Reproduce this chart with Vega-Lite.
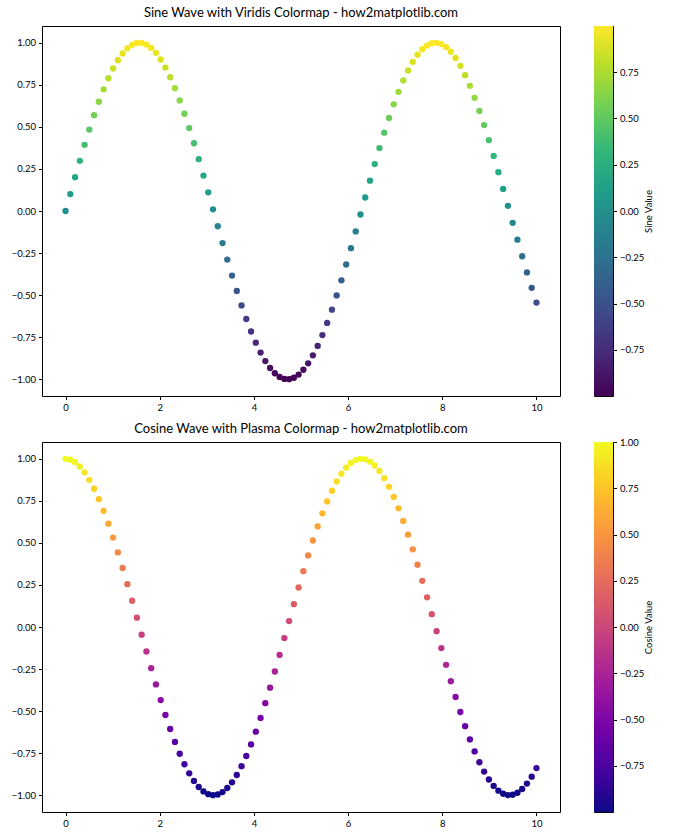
{
  "$schema": "https://vega.github.io/schema/vega-lite/v6.json",
  "padding": {"left": 10, "top": 6, "right": 5, "bottom": 5},
  "background": "white",
  "resolve": {"scale": {"color": "independent"}},
  "datasets": {
    "waves": [
      {"x": 0.0, "sin": 0.0, "cos": 1.0},
      {"x": 0.10101, "sin": 0.10084, "cos": 0.9949},
      {"x": 0.20202, "sin": 0.20065, "cos": 0.97966},
      {"x": 0.30303, "sin": 0.29842, "cos": 0.95444},
      {"x": 0.40404, "sin": 0.39314, "cos": 0.91948},
      {"x": 0.50505, "sin": 0.48386, "cos": 0.87515},
      {"x": 0.60606, "sin": 0.56964, "cos": 0.8219},
      {"x": 0.70707, "sin": 0.64962, "cos": 0.76027},
      {"x": 0.80808, "sin": 0.72297, "cos": 0.69088},
      {"x": 0.90909, "sin": 0.78895, "cos": 0.61446},
      {"x": 1.0101, "sin": 0.84689, "cos": 0.53177},
      {"x": 1.11111, "sin": 0.89619, "cos": 0.44366},
      {"x": 1.21212, "sin": 0.93636, "cos": 0.35103},
      {"x": 1.31313, "sin": 0.96699, "cos": 0.25482},
      {"x": 1.41414, "sin": 0.98776, "cos": 0.15601},
      {"x": 1.51515, "sin": 0.99845, "cos": 0.05562},
      {"x": 1.61616, "sin": 0.99897, "cos": -0.04535},
      {"x": 1.71717, "sin": 0.98931, "cos": -0.14585},
      {"x": 1.81818, "sin": 0.96956, "cos": -0.24487},
      {"x": 1.91919, "sin": 0.93992, "cos": -0.34139},
      {"x": 2.0202, "sin": 0.90071, "cos": -0.43443},
      {"x": 2.12121, "sin": 0.85231, "cos": -0.52304},
      {"x": 2.22222, "sin": 0.79523, "cos": -0.60632},
      {"x": 2.32323, "sin": 0.73004, "cos": -0.68342},
      {"x": 2.42424, "sin": 0.6574, "cos": -0.75356},
      {"x": 2.52525, "sin": 0.57806, "cos": -0.81601},
      {"x": 2.62626, "sin": 0.49282, "cos": -0.87014},
      {"x": 2.72727, "sin": 0.40257, "cos": -0.9154},
      {"x": 2.82828, "sin": 0.30821, "cos": -0.95133},
      {"x": 2.92929, "sin": 0.21071, "cos": -0.97756},
      {"x": 3.0303, "sin": 0.11106, "cos": -0.99381},
      {"x": 3.13131, "sin": 0.01028, "cos": -0.99995},
      {"x": 3.23232, "sin": -0.0906, "cos": -0.99589},
      {"x": 3.33333, "sin": -0.19057, "cos": -0.98167},
      {"x": 3.43434, "sin": -0.28859, "cos": -0.95745},
      {"x": 3.53535, "sin": -0.38366, "cos": -0.92347},
      {"x": 3.63636, "sin": -0.47482, "cos": -0.88007},
      {"x": 3.73737, "sin": -0.56115, "cos": -0.8277},
      {"x": 3.83838, "sin": -0.64175, "cos": -0.76689},
      {"x": 3.93939, "sin": -0.71581, "cos": -0.69827},
      {"x": 4.0404, "sin": -0.78257, "cos": -0.62253},
      {"x": 4.14141, "sin": -0.84136, "cos": -0.54045},
      {"x": 4.24242, "sin": -0.89157, "cos": -0.45285},
      {"x": 4.34343, "sin": -0.93269, "cos": -0.36063},
      {"x": 4.44444, "sin": -0.96431, "cos": -0.26474},
      {"x": 4.54545, "sin": -0.9861, "cos": -0.16616},
      {"x": 4.64646, "sin": -0.99783, "cos": -0.06588},
      {"x": 4.74747, "sin": -0.99938, "cos": 0.03508},
      {"x": 4.84848, "sin": -0.99075, "cos": 0.13568},
      {"x": 4.94949, "sin": -0.97202, "cos": 0.23489},
      {"x": 5.05051, "sin": -0.94338, "cos": 0.33171},
      {"x": 5.15152, "sin": -0.90512, "cos": 0.42515},
      {"x": 5.25253, "sin": -0.85764, "cos": 0.51425},
      {"x": 5.35354, "sin": -0.80141, "cos": 0.59811},
      {"x": 5.45455, "sin": -0.73701, "cos": 0.67587},
      {"x": 5.55556, "sin": -0.6651, "cos": 0.74674},
      {"x": 5.65657, "sin": -0.58641, "cos": 0.81},
      {"x": 5.75758, "sin": -0.50174, "cos": 0.865},
      {"x": 5.85859, "sin": -0.41195, "cos": 0.91119},
      {"x": 5.9596, "sin": -0.31797, "cos": 0.94808},
      {"x": 6.06061, "sin": -0.22075, "cos": 0.97533},
      {"x": 6.16162, "sin": -0.12127, "cos": 0.99262},
      {"x": 6.26263, "sin": -0.02056, "cos": 0.99979},
      {"x": 6.36364, "sin": 0.08036, "cos": 0.99677},
      {"x": 6.46465, "sin": 0.18047, "cos": 0.98358},
      {"x": 6.56566, "sin": 0.27873, "cos": 0.96037},
      {"x": 6.66667, "sin": 0.37416, "cos": 0.92737},
      {"x": 6.76768, "sin": 0.46577, "cos": 0.88491},
      {"x": 6.86869, "sin": 0.55263, "cos": 0.83343},
      {"x": 6.9697, "sin": 0.63385, "cos": 0.77345},
      {"x": 7.07071, "sin": 0.70861, "cos": 0.70559},
      {"x": 7.17172, "sin": 0.77615, "cos": 0.63053},
      {"x": 7.27273, "sin": 0.83577, "cos": 0.54905},
      {"x": 7.37374, "sin": 0.88688, "cos": 0.46197},
      {"x": 7.47475, "sin": 0.92894, "cos": 0.37018},
      {"x": 7.57576, "sin": 0.96153, "cos": 0.27462},
      {"x": 7.67677, "sin": 0.98432, "cos": 0.17626},
      {"x": 7.77778, "sin": 0.9971, "cos": 0.07613},
      {"x": 7.87879, "sin": 0.99969, "cos": -0.0248},
      {"x": 7.9798, "sin": 0.9921, "cos": -0.12548},
      {"x": 8.08081, "sin": 0.97439, "cos": -0.22489},
      {"x": 8.18182, "sin": 0.94674, "cos": -0.32199},
      {"x": 8.28283, "sin": 0.90945, "cos": -0.41582},
      {"x": 8.38384, "sin": 0.86288, "cos": -0.50541},
      {"x": 8.48485, "sin": 0.80751, "cos": -0.58984},
      {"x": 8.58586, "sin": 0.74391, "cos": -0.66826},
      {"x": 8.68687, "sin": 0.67273, "cos": -0.73987},
      {"x": 8.78788, "sin": 0.59469, "cos": -0.80394},
      {"x": 8.88889, "sin": 0.51059, "cos": -0.85981},
      {"x": 8.9899, "sin": 0.42129, "cos": -0.90692},
      {"x": 9.09091, "sin": 0.32769, "cos": -0.94478},
      {"x": 9.19192, "sin": 0.23075, "cos": -0.973},
      {"x": 9.29293, "sin": 0.13147, "cos": -0.99132},
      {"x": 9.39394, "sin": 0.03083, "cos": -0.99952},
      {"x": 9.49495, "sin": -0.07011, "cos": -0.99754},
      {"x": 9.59596, "sin": -0.17035, "cos": -0.98538},
      {"x": 9.69697, "sin": -0.26884, "cos": -0.96318},
      {"x": 9.79798, "sin": -0.3646, "cos": -0.93116},
      {"x": 9.89899, "sin": -0.45664, "cos": -0.88965},
      {"x": 10.0, "sin": -0.54402, "cos": -0.83907}
    ]
  },
  "vconcat": [
    {
      "spacing": 32,
      "hconcat": [
        {
          "title": "Sine Wave with Viridis Colormap - how2matplotlib.com",
          "width": 518,
          "height": 370,
          "data": {"name": "waves"},
          "mark": {"type": "point", "filled": true, "opacity": 1, "size": 40},
          "encoding": {
            "x": {"field": "x", "type": "quantitative", "scale": {"domain": [-0.5, 10.5], "nice": false, "zero": false}, "axis": {"values": [0, 2, 4, 6, 8, 10], "title": null, "format": "d"}},
            "y": {"field": "sin", "type": "quantitative", "scale": {"domain": [-1.0993, 1.0996], "nice": false, "zero": false}, "axis": {"values": [-1, -0.75, -0.5, -0.25, 0, 0.25, 0.5, 0.75, 1], "format": ".2f", "title": null}},
            "color": {"field": "sin", "type": "quantitative", "scale": {"scheme": "viridis", "domain": [-0.99938, 0.99969]}, "legend": null}
          }
        },
        {
          "width": 19,
          "height": 370,
          "data": {"name": "waves"},
          "mark": {"type": "rect", "fill": {"gradient": "linear", "x1": 0, "y1": 1, "x2": 0, "y2": 0, "stops": [
            {"offset": 0, "color": "#440154"}, {"offset": 0.1111, "color": "#482878"}, {"offset": 0.2222, "color": "#3e4989"}, {"offset": 0.3333, "color": "#31688e"}, {"offset": 0.4444, "color": "#26828e"}, {"offset": 0.5556, "color": "#1f9e89"}, {"offset": 0.6667, "color": "#35b779"}, {"offset": 0.7778, "color": "#6ece58"}, {"offset": 0.8889, "color": "#b5de2b"}, {"offset": 1, "color": "#fde725"}]}},
          "encoding": {
            "y": {"aggregate": "min", "field": "sin", "type": "quantitative", "scale": {"nice": false, "zero": false}, "axis": {"orient": "right", "values": [-0.75, -0.5, -0.25, 0, 0.25, 0.5, 0.75], "format": ".2f", "title": "Sine Value", "titleAngle": 270, "titlePadding": 10}},
            "y2": {"aggregate": "max", "field": "sin"}
          }
        }
      ]
    },
    {
      "spacing": 32,
      "hconcat": [
        {
          "title": "Cosine Wave with Plasma Colormap - how2matplotlib.com",
          "width": 518,
          "height": 370,
          "data": {"name": "waves"},
          "mark": {"type": "point", "filled": true, "opacity": 1, "size": 40},
          "encoding": {
            "x": {"field": "x", "type": "quantitative", "scale": {"domain": [-0.5, 10.5], "nice": false, "zero": false}, "axis": {"values": [0, 2, 4, 6, 8, 10], "title": null, "format": "d"}},
            "y": {"field": "cos", "type": "quantitative", "scale": {"domain": [-1.09995, 1.1], "nice": false, "zero": false}, "axis": {"values": [-1, -0.75, -0.5, -0.25, 0, 0.25, 0.5, 0.75, 1], "format": ".2f", "title": null}},
            "color": {"field": "cos", "type": "quantitative", "scale": {"scheme": "plasma", "domain": [-0.99995, 1]}, "legend": null}
          }
        },
        {
          "width": 19,
          "height": 370,
          "data": {"name": "waves"},
          "mark": {"type": "rect", "fill": {"gradient": "linear", "x1": 0, "y1": 1, "x2": 0, "y2": 0, "stops": [
            {"offset": 0, "color": "#0d0887"}, {"offset": 0.1111, "color": "#46039f"}, {"offset": 0.2222, "color": "#7201a8"}, {"offset": 0.3333, "color": "#9c179e"}, {"offset": 0.4444, "color": "#bd3786"}, {"offset": 0.5556, "color": "#d8576b"}, {"offset": 0.6667, "color": "#ed7953"}, {"offset": 0.7778, "color": "#fb9f3a"}, {"offset": 0.8889, "color": "#fdca26"}, {"offset": 1, "color": "#f0f921"}]}},
          "encoding": {
            "y": {"aggregate": "min", "field": "cos", "type": "quantitative", "scale": {"nice": false, "zero": false}, "axis": {"orient": "right", "values": [-0.75, -0.5, -0.25, 0, 0.25, 0.5, 0.75, 1], "format": ".2f", "title": "Cosine Value", "titleAngle": 270, "titlePadding": 10}},
            "y2": {"aggregate": "max", "field": "cos"}
          }
        }
      ]
    }
  ],
  "spacing": 9,
  "config": {
    "font": "Lato",
    "view": {"stroke": "#000", "strokeWidth": 1},
    "axis": {"domain": false, "grid": false, "tickColor": "#000", "tickSize": 3.5, "tickWidth": 1, "labelColor": "#000", "labelFontSize": 9.5, "labelPadding": 3, "titleFontWeight": "normal", "titleFontSize": 9.5, "titleColor": "#000"},
    "title": {"fontSize": 13, "fontWeight": "normal", "color": "#000", "offset": 6}
  }
}
